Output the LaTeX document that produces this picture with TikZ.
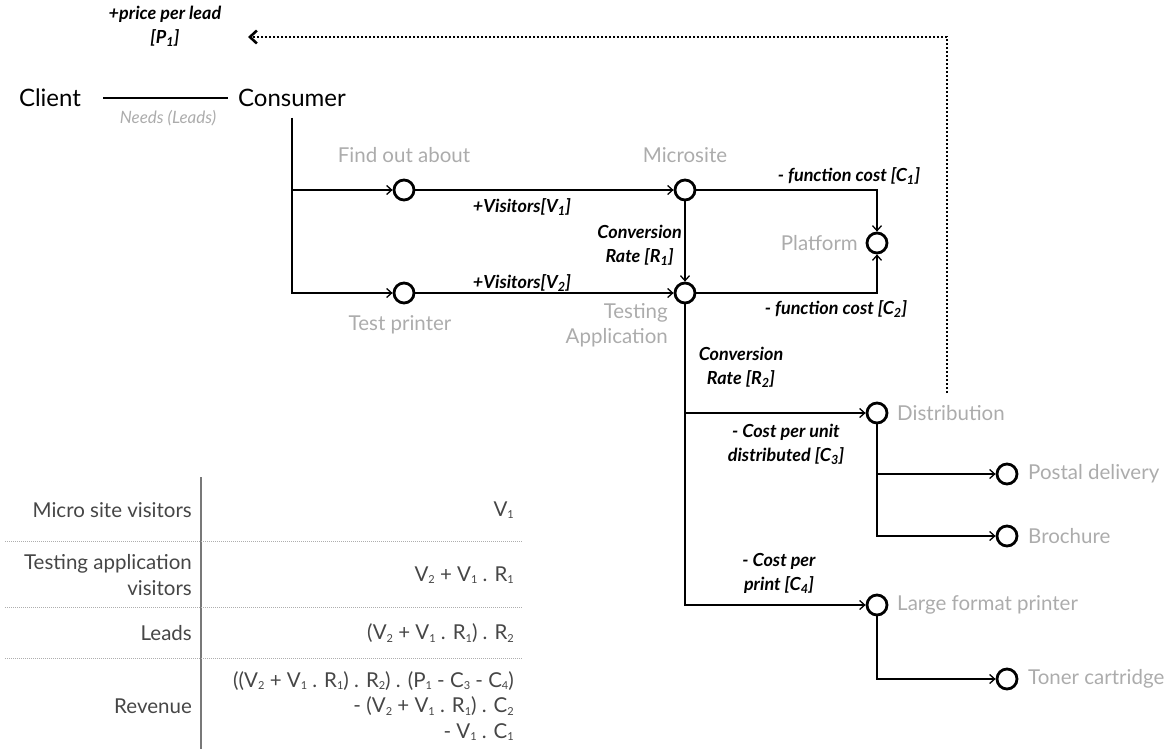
\documentclass[tikz,border=0pt]{standalone}
\usepackage{fontspec}
\setmainfont{Lato}
\usetikzlibrary{arrows.meta,calc}
\definecolor{lbl}{RGB}{172,172,172}
\definecolor{tbl}{RGB}{70,70,70}
\definecolor{rule}{RGB}{120,120,120}
\newcommand\sbs[1]{\raisebox{-0.25ex}{\fontsize{11}{11}\selectfont #1}}
\begin{document}
\begin{tikzpicture}[x=1pt,y=-1pt,
  dot/.style={circle,draw,line width=2.8pt,minimum size=20pt,inner sep=0pt},
  ln/.style={line width=1.5pt},
  conn/.style={line width=1.5pt,-{Straight Barb[length=5pt,width=9pt,line width=1.3pt]}},
  dotarrow/.style={line width=2.6pt,dash pattern=on 2.2pt off 1.8pt,-{Straight Barb[length=7pt,width=13pt,line width=2.6pt]}},
  mainlabel/.style={font=\fontsize{24}{28}\selectfont,inner sep=0pt},
  glabel/.style={text=lbl,font=\fontsize{20.5}{25}\selectfont,inner sep=0pt,align=center},
  ilabel/.style={font=\fontsize{18}{24}\selectfont\bfseries\itshape,inner sep=0pt,align=center},
  ttext/.style={text=tbl,font=\fontsize{20.5}{25.5}\selectfont,inner sep=0pt,align=right,anchor=east},
  tline/.style={line width=1.2pt,draw=rule},
  trule/.style={line width=0.8pt,draw=rule!60,dash pattern=on 1pt off 1pt}
]
\useasboundingbox (0,0) rectangle (1172,749);

% top part
\node[ilabel] (price) at (165,26) {+price per lead\\{}[P\textsubscript{1}]};
\node[mainlabel] (client) at (50,98) {Client};
\node[mainlabel] (cons) at (292,98) {Consumer};
\node[text=lbl,font=\fontsize{17}{20}\selectfont\itshape,inner sep=0pt] (needs) at (168,118) {Needs (Leads)};
\draw[ln] ([xshift=22pt]client.east) -- ([xshift=-10pt]cons.west);

% circles
\node[dot] (find) at (404,190) {};
\node[dot] (micro) at (685,190) {};
\node[dot] (test) at (404,293) {};
\node[dot] (testapp) at (685,293) {};
\node[dot] (plat) at (877,243) {};
\node[dot] (dist) at (877,413) {};
\node[dot] (postal) at (1007,474) {};
\node[dot] (broch) at (1007,536) {};
\node[dot] (lfp) at (877,605) {};
\node[dot] (toner) at (1007,679) {};

% grey labels
\node[glabel] (lfind) at (404,155) {Find out about};
\node[glabel] (lmicro) at (685,155) {Microsite};
\node[glabel] (ltest) at (400,325) {Test printer};
\node[glabel,anchor=east,align=right] (ltestapp) at (668,325) {Testing\\Application};
\node[glabel,anchor=east] (lplat) at (858,243) {Platform};
\node[glabel,anchor=west] (ldist) at (897,413) {Distribution};
\node[glabel,anchor=west] (lpostal) at (1028,474) {Postal delivery};
\node[glabel,anchor=west] (lbroch) at (1028,536) {Brochure};
\node[glabel,anchor=west] (llfp) at (897,605) {Large format printer};
\node[glabel,anchor=west] (ltoner) at (1028,679) {Toner cartridge};

% italic labels
\node[ilabel] (v1) at (522,207) {+Visitors[V\textsubscript{1}]};
\node[ilabel] (v2) at (522,283) {+Visitors[V\textsubscript{2}]};
\node[ilabel,anchor=east] (r1) at (682,245) {Conversion\\Rate [R\textsubscript{1}]};
\node[ilabel] (c1) at (849,176) {- function cost [C\textsubscript{1}]};
\node[ilabel] (c2) at (836,309) {- function cost [C\textsubscript{2}]};
\node[ilabel] (r2) at (741,367) {Conversion\\Rate [R\textsubscript{2}]};
\node[ilabel] (c3) at (786,444) {- Cost per unit\\distributed [C\textsubscript{3}]};
\node[ilabel] (c4) at (779,573) {- Cost per\\print [C\textsubscript{4}]};

% connectors
\draw[conn] ([yshift=-11pt]cons.south) |- (find);
\draw[conn] ([yshift=-11pt]cons.south) |- (test);
\draw[conn] (find) -- (micro);
\draw[conn] (micro) -- (testapp);
\draw[conn] (test) -- (testapp);
\draw[conn] (micro) -| (plat);
\draw[conn] (testapp) -| (plat);
\draw[conn] (testapp) |- (dist);
\draw[conn] (testapp) |- (lfp);
\draw[conn] (dist) |- (postal);
\draw[conn] (dist) |- (broch);
\draw[conn] (lfp) |- (toner);

% dotted feedback
\coordinate (dend) at (947,393);
\coordinate (dcorner) at (947,37);
\coordinate (dtip) at (248,37);
\draw[dotarrow] (dend) -- (dcorner) -- (dtip);

% table
\draw[tline] (201,477) -- (201,749);
\draw[trule] (5,541) -- (522,541);
\draw[trule] (5,607) -- (522,607);
\draw[trule] (5,658) -- (522,658);
\node[ttext] (t1l) at (192,510) {Micro site visitors};
\node[ttext] (t1r) at (514,510) {V\sbs{1}};
\node[ttext] (t2l) at (192,575) {Testing application\\visitors};
\node[ttext] (t2r) at (514,575) {V\sbs{2} + V\sbs{1} . R\sbs{1}};
\node[ttext] (t3l) at (192,633) {Leads};
\node[ttext] (t3r) at (514,633) {(V\sbs{2} + V\sbs{1} . R\sbs{1}) . R\sbs{2}};
\node[ttext] (t4l) at (192,706) {Revenue};
\node[ttext] (t4r) at (514,706) {((V\sbs{2} + V\sbs{1} . R\sbs{1}) . R\sbs{2}) . (P\sbs{1} - C\sbs{3} - C\sbs{4})\\- (V\sbs{2} + V\sbs{1} . R\sbs{1}) . C\sbs{2}\\- V\sbs{1} . C\sbs{1}};
\end{tikzpicture}
\end{document}
